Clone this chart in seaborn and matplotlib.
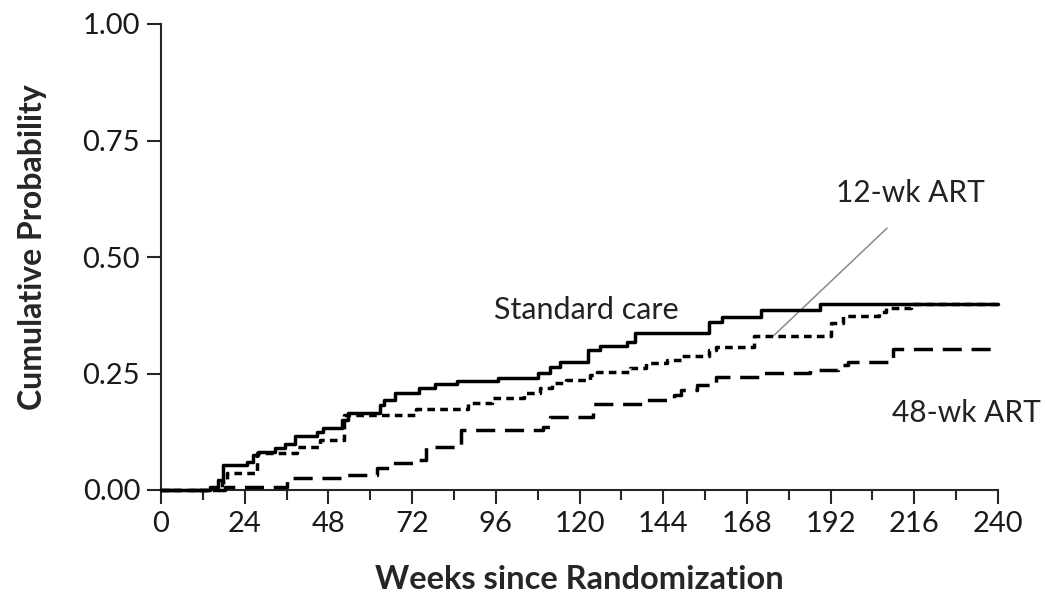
import numpy as np
import pandas as pd
import matplotlib
matplotlib.use("Agg")
import matplotlib.pyplot as plt
from matplotlib.ticker import MultipleLocator
import seaborn as sns

# ---- data ----
std_weeks = [0, 14, 16.3, 17.8, 24.6, 26.4, 27.8, 32.7, 35.6, 38.4,
             44.7, 46.5, 52, 53.6, 62.8, 64, 67, 74, 78.6, 85,
             96.6, 108, 111.5, 114.4, 122.4, 126, 133.6, 136, 157, 161,
             172, 189, 240]
std_prob = [0, 0.007, 0.021, 0.054, 0.06, 0.075, 0.082, 0.09, 0.099, 0.116,
            0.125, 0.133, 0.15, 0.165, 0.182, 0.193, 0.208, 0.219, 0.227, 0.234,
            0.240, 0.251, 0.264, 0.275, 0.30, 0.309, 0.318, 0.337, 0.36, 0.371,
            0.386, 0.40, 0.40]

wk12_weeks = [0, 17.5, 19, 27.5, 39, 45.5, 52.5, 73, 88, 95,
              104, 108.7, 112, 116, 123, 125, 134.5, 139, 145, 149,
              157, 159, 170, 192, 195.6, 206, 208, 215, 240]
wk12_prob = [0, 0.017, 0.036, 0.079, 0.092, 0.107, 0.16, 0.174, 0.187, 0.197,
             0.208, 0.219, 0.23, 0.236, 0.247, 0.253, 0.262, 0.272, 0.279, 0.288,
             0.30, 0.307, 0.33, 0.358, 0.373, 0.382, 0.39, 0.40, 0.40]

wk48_weeks = [0, 18.4, 36, 52, 62, 65.6, 73, 76, 86, 109.5,
              111.5, 124, 138, 147, 149, 153.7, 159, 172, 186, 194,
              197, 210, 240]
wk48_prob = [0, 0.007, 0.026, 0.032, 0.047, 0.058, 0.064, 0.092, 0.129, 0.135,
             0.157, 0.185, 0.193, 0.204, 0.215, 0.225, 0.243, 0.251, 0.258, 0.268,
             0.275, 0.303, 0.303]

groups = ["Standard care", "12-wk ART", "48-wk ART"]
x_ticks = list(range(0, 241, 24))
y_ticks = [0.0, 0.25, 0.50, 0.75, 1.00]
y_ticklabels = ["0.00", "0.25", "0.50", "0.75", "1.00"]

df = pd.concat([
    pd.DataFrame({"week": std_weeks, "prob": std_prob, "group": groups[0]}),
    pd.DataFrame({"week": wk12_weeks, "prob": wk12_prob, "group": groups[1]}),
    pd.DataFrame({"week": wk48_weeks, "prob": wk48_prob, "group": groups[2]}),
])

sns.set_style("ticks")
plt.rcParams["font.family"] = ["Lato", "DejaVu Sans"]

fig = plt.figure(figsize=(10.45, 6.03), dpi=100)
ax = fig.add_axes([161 / 1045, (603 - 490) / 603, (998 - 161) / 1045, (490 - 24) / 603])

sns.lineplot(data=df, x="week", y="prob", style="group",
             dashes={groups[0]: "", groups[1]: (2.2, 1.5), groups[2]: (5.5, 2.8)},
             color="black", linewidth=2.5, drawstyle="steps-post",
             estimator=None, legend=False, ax=ax)
for ln in ax.get_lines():
    ln.set_clip_on(False)
    ln.set_zorder(5)

ax.set_xlim(0, 240)
ax.set_ylim(0, 1)
ax.set_xticks(x_ticks)
ax.xaxis.set_minor_locator(MultipleLocator(12))
ax.set_yticks(y_ticks)
ax.set_yticklabels(y_ticklabels)
sns.despine(ax=ax)
for s in ["left", "bottom"]:
    ax.spines[s].set_linewidth(1.5)
ax.tick_params(axis="both", which="major", length=10, width=1.5,
               labelsize=21, pad=5, direction="out", labelcolor="#1a1a1a")
ax.tick_params(axis="x", which="minor", length=7, width=1.5, direction="out")
ax.tick_params(axis="x", which="major", pad=5)

ax.set_xlabel("Weeks since Randomization", fontsize=23.5, fontweight="bold", labelpad=20)
ax.set_ylabel("Cumulative Probability", fontsize=23, fontweight="bold")
ax.yaxis.set_label_coords(-0.136, 0.522)

tc = "#222222"
ax.text(122, 0.386, "Standard care", fontsize=22, ha="center", va="center", color=tc)
ax.text(215, 0.637, "12-wk ART", fontsize=21.5, ha="center", va="center", color=tc)
ax.text(230.8, 0.165, "48-wk ART", fontsize=21.5, ha="center", va="center",
        color=tc, clip_on=False)
ax.plot([175.5, 208.2], [0.330, 0.562], color="#8a8a8a", linewidth=1.1, zorder=4)

fig.savefig("out.png", dpi=100)
